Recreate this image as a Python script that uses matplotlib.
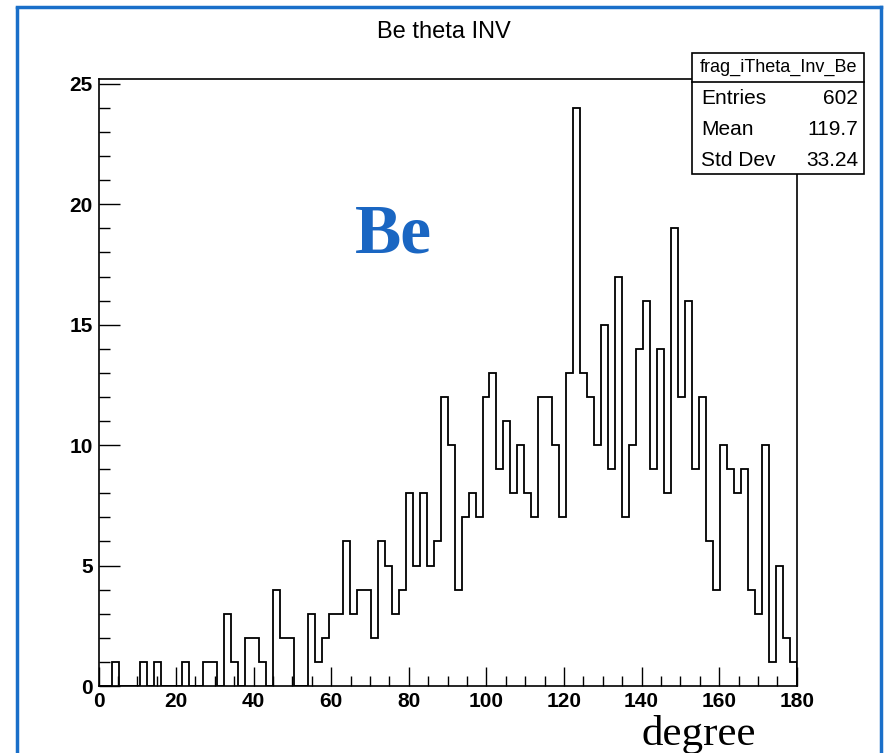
import numpy as np
import matplotlib
matplotlib.use("Agg")
import matplotlib.pyplot as plt
from matplotlib.ticker import MultipleLocator
from matplotlib.patches import Rectangle
from matplotlib.lines import Line2D

# histogram frag_iTheta_Inv_Be: 100 bins from 0 to 180 degrees
counts = [0, 0, 1, 0, 0, 0, 1, 0, 1, 0,
          0, 0, 1, 0, 0, 1, 1, 0, 3, 1,
          0, 2, 2, 1, 0, 4, 2, 2, 0, 0,
          3, 1, 2, 3, 3, 6, 3, 4, 4, 2,
          6, 5, 3, 4, 8, 5, 8, 5, 6, 12,
          10, 4, 7, 8, 7, 12, 13, 9, 11, 8,
          10, 8, 7, 12, 12, 10, 7, 13, 24, 13,
          12, 10, 15, 9, 17, 7, 10, 14, 16, 9,
          14, 8, 19, 12, 16, 9, 12, 6, 4, 10,
          9, 8, 9, 4, 3, 10, 1, 5, 2, 1]
x_min, x_max, n_bins = 0, 180, 100
edges = np.linspace(x_min, x_max, n_bins + 1)

stat_names = ["Entries", "Mean", "Std Dev"]
stat_values = ["602", "119.7", "33.24"]
hist_name = "frag_iTheta_Inv_Be"

W, H = 888, 753
narrow = ["Liberation Sans Narrow", "Liberation Sans", "DejaVu Sans"]
serif = ["Liberation Serif", "DejaVu Serif"]


def fx(x):
    return x / W


def fy(y):
    return 1 - y / H


fig = plt.figure(figsize=(W / 100, H / 100), dpi=100)
ax = fig.add_axes([fx(98.5), fy(686), (796.7 - 98.5) / W, (686 - 79) / H])

ax.stairs(counts, edges, color="black", lw=1.3)
ax.set_xlim(x_min, x_max)
ax.set_ylim(0, 1.05 * max(counts))

ax.xaxis.set_major_locator(MultipleLocator(20))
ax.xaxis.set_minor_locator(MultipleLocator(5))
ax.yaxis.set_major_locator(MultipleLocator(5))
ax.yaxis.set_minor_locator(MultipleLocator(1))
ax.tick_params(which="both", direction="in", top=False, right=False, width=1)
ax.tick_params(axis="x", which="major", length=13.5, pad=4)
ax.tick_params(axis="x", which="minor", length=7)
ax.tick_params(axis="y", which="major", length=15, pad=4)
ax.tick_params(axis="y", which="minor", length=8)
for lab in ax.get_xticklabels() + ax.get_yticklabels():
    lab.set_family(narrow)
    lab.set_fontweight("bold")
    lab.set_fontsize(15)
for s in ax.spines.values():
    s.set_linewidth(1.2)

fig.text(0.5, fy(32), "Be theta INV", ha="center", va="center",
         family=narrow, fontsize=17)

# stats box
bx0, bx1, by0, by1, bsep = 692, 864, 53, 174, 82
fig.add_artist(Rectangle((fx(bx0), fy(by1)), (bx1 - bx0) / W, (by1 - by0) / H,
                         transform=fig.transFigure, facecolor="white",
                         edgecolor="black", lw=1.2, zorder=5))
fig.add_artist(Line2D([fx(bx0), fx(bx1)], [fy(bsep), fy(bsep)],
                      transform=fig.transFigure, color="black", lw=1.2, zorder=6))
fig.text(fx((bx0 + bx1) / 2), fy(67), hist_name, ha="center", va="center",
         family=narrow, fontsize=13, zorder=7)
for i, (nm, val) in enumerate(zip(stat_names, stat_values)):
    yy = fy(99 + i * 30.5)
    fig.text(fx(701), yy, nm, ha="left", va="center", family=narrow,
             fontsize=15, zorder=7)
    fig.text(fx(858), yy, val, ha="right", va="center", family=narrow,
             fontsize=15, zorder=7)

# annotations
fig.text(fx(355), fy(253), "Be", ha="left", va="baseline", family=serif,
         fontweight="bold", fontsize=50, color="#1a66c2")
fig.text(fx(641), fy(745), "degree", ha="left", va="baseline", family=serif,
         fontsize=31, color="black")

# blue screenshot border
blue = "#1a6fc9"
for xs, ys in [([17, 17], [8, 753]), ([17, 881], [7, 7]), ([881, 881], [7, 753])]:
    fig.add_artist(Line2D([fx(v) for v in xs], [fy(v) for v in ys],
                          transform=fig.transFigure, color=blue, lw=2.5))

fig.savefig("out.png", dpi=100)
